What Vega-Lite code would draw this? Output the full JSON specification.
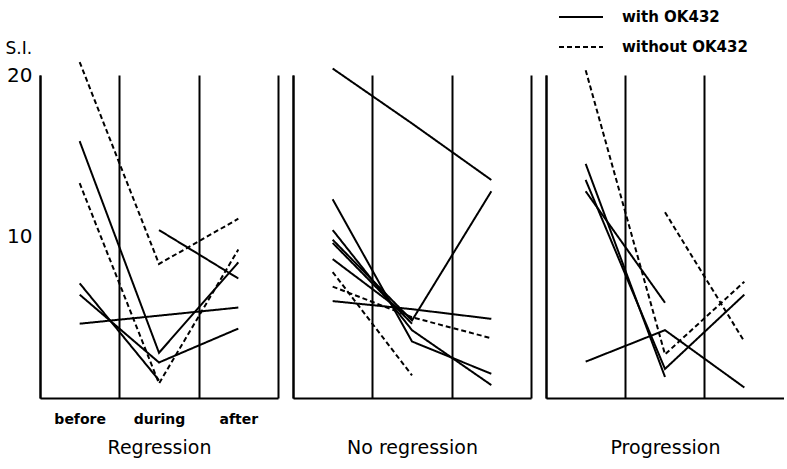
{
  "$schema": "https://vega.github.io/schema/vega-lite/v6.json",
  "padding": {"left": 5, "top": 5, "right": 0, "bottom": 5},
  "background": "white",
  "config": {
    "font": "DejaVu Sans",
    "view": {"stroke": null},
    "axis": {"domainColor": "black", "gridColor": "black", "gridOpacity": 1, "labelColor": "black", "titleColor": "black"}
  },
  "data": {"values": [
    {"panel": "Regression", "id": "r1", "type": "without OK432", "phase": "before", "si": 20.8},
    {"panel": "Regression", "id": "r1", "type": "without OK432", "phase": "during", "si": 8.3},
    {"panel": "Regression", "id": "r1", "type": "without OK432", "phase": "after", "si": 11.1},
    {"panel": "Regression", "id": "r2", "type": "without OK432", "phase": "before", "si": 13.3},
    {"panel": "Regression", "id": "r2", "type": "without OK432", "phase": "during", "si": 0.9},
    {"panel": "Regression", "id": "r2", "type": "without OK432", "phase": "after", "si": 9.2},
    {"panel": "Regression", "id": "r3", "type": "with OK432", "phase": "before", "si": 15.9},
    {"panel": "Regression", "id": "r3", "type": "with OK432", "phase": "during", "si": 2.8},
    {"panel": "Regression", "id": "r3", "type": "with OK432", "phase": "after", "si": 8.4},
    {"panel": "Regression", "id": "r4", "type": "with OK432", "phase": "before", "si": 6.4},
    {"panel": "Regression", "id": "r4", "type": "with OK432", "phase": "during", "si": 2.2},
    {"panel": "Regression", "id": "r4", "type": "with OK432", "phase": "after", "si": 4.3},
    {"panel": "Regression", "id": "r5", "type": "with OK432", "phase": "before", "si": 7.1},
    {"panel": "Regression", "id": "r5", "type": "with OK432", "phase": "during", "si": 1.1},
    {"panel": "Regression", "id": "r6", "type": "with OK432", "phase": "before", "si": 4.6},
    {"panel": "Regression", "id": "r6", "type": "with OK432", "phase": "during", "si": 5.1},
    {"panel": "Regression", "id": "r6", "type": "with OK432", "phase": "after", "si": 5.6},
    {"panel": "Regression", "id": "r7", "type": "with OK432", "phase": "during", "si": 10.4},
    {"panel": "Regression", "id": "r7", "type": "with OK432", "phase": "after", "si": 7.4},

    {"panel": "No regression", "id": "n1", "type": "with OK432", "phase": "before", "si": 20.4},
    {"panel": "No regression", "id": "n1", "type": "with OK432", "phase": "during", "si": 17.0},
    {"panel": "No regression", "id": "n1", "type": "with OK432", "phase": "after", "si": 13.5},
    {"panel": "No regression", "id": "n2", "type": "with OK432", "phase": "before", "si": 12.3},
    {"panel": "No regression", "id": "n2", "type": "with OK432", "phase": "during", "si": 3.5},
    {"panel": "No regression", "id": "n2", "type": "with OK432", "phase": "after", "si": 1.5},
    {"panel": "No regression", "id": "n3", "type": "with OK432", "phase": "before", "si": 10.4},
    {"panel": "No regression", "id": "n3", "type": "with OK432", "phase": "during", "si": 4.2},
    {"panel": "No regression", "id": "n3", "type": "with OK432", "phase": "after", "si": 0.8},
    {"panel": "No regression", "id": "n4", "type": "with OK432", "phase": "before", "si": 9.8},
    {"panel": "No regression", "id": "n4", "type": "with OK432", "phase": "during", "si": 4.8},
    {"panel": "No regression", "id": "n4", "type": "with OK432", "phase": "after", "si": 12.8},
    {"panel": "No regression", "id": "n5", "type": "with OK432", "phase": "before", "si": 9.6},
    {"panel": "No regression", "id": "n5", "type": "with OK432", "phase": "during", "si": 4.6},
    {"panel": "No regression", "id": "n6", "type": "with OK432", "phase": "before", "si": 8.6},
    {"panel": "No regression", "id": "n6", "type": "with OK432", "phase": "during", "si": 4.9},
    {"panel": "No regression", "id": "n7", "type": "without OK432", "phase": "before", "si": 7.8},
    {"panel": "No regression", "id": "n7", "type": "without OK432", "phase": "during", "si": 1.4},
    {"panel": "No regression", "id": "n8", "type": "without OK432", "phase": "before", "si": 6.9},
    {"panel": "No regression", "id": "n8", "type": "without OK432", "phase": "during", "si": 5.0},
    {"panel": "No regression", "id": "n8", "type": "without OK432", "phase": "after", "si": 3.7},
    {"panel": "No regression", "id": "n9", "type": "with OK432", "phase": "before", "si": 6.0},
    {"panel": "No regression", "id": "n9", "type": "with OK432", "phase": "during", "si": 5.5},
    {"panel": "No regression", "id": "n9", "type": "with OK432", "phase": "after", "si": 4.9},

    {"panel": "Progression", "id": "p1", "type": "without OK432", "phase": "before", "si": 20.3},
    {"panel": "Progression", "id": "p1", "type": "without OK432", "phase": "during", "si": 2.7},
    {"panel": "Progression", "id": "p1", "type": "without OK432", "phase": "after", "si": 7.2},
    {"panel": "Progression", "id": "p2", "type": "with OK432", "phase": "before", "si": 14.5},
    {"panel": "Progression", "id": "p2", "type": "with OK432", "phase": "during", "si": 1.3},
    {"panel": "Progression", "id": "p3", "type": "with OK432", "phase": "before", "si": 13.5},
    {"panel": "Progression", "id": "p3", "type": "with OK432", "phase": "during", "si": 1.8},
    {"panel": "Progression", "id": "p3", "type": "with OK432", "phase": "after", "si": 6.4},
    {"panel": "Progression", "id": "p4", "type": "with OK432", "phase": "before", "si": 12.8},
    {"panel": "Progression", "id": "p4", "type": "with OK432", "phase": "during", "si": 5.9},
    {"panel": "Progression", "id": "p5", "type": "with OK432", "phase": "before", "si": 2.25},
    {"panel": "Progression", "id": "p5", "type": "with OK432", "phase": "during", "si": 4.2},
    {"panel": "Progression", "id": "p5", "type": "with OK432", "phase": "after", "si": 0.65},
    {"panel": "Progression", "id": "p6", "type": "without OK432", "phase": "during", "si": 11.5},
    {"panel": "Progression", "id": "p6", "type": "without OK432", "phase": "after", "si": 3.5}
  ]},
  "spacing": 15,
  "resolve": {"legend": {"strokeDash": "independent"}},
  "hconcat": [
    {
      "width": 238, "height": 323,
      "transform": [{"filter": "datum.panel === 'Regression'"}],
      "mark": {"type": "line", "color": "black", "strokeWidth": 2, "clip": false},
      "encoding": {
        "x": {"field": "phase", "type": "ordinal", "sort": ["before", "during", "after"],
              "scale": {"type": "band", "paddingInner": 0, "paddingOuter": 0},
              "axis": {"tickBand": "extent", "grid": true, "gridWidth": 2, "ticks": false, "domain": true, "domainWidth": 2,
                       "labelAngle": 0, "labelFontSize": 14, "labelFontWeight": "bold", "labelPadding": 14,
                       "title": "Regression", "titleFontSize": 19, "titleFontWeight": "normal", "titlePadding": 12}},
        "y": {"field": "si", "type": "quantitative", "scale": {"domain": [0, 20], "nice": false},
              "axis": {"values": [10, 20], "grid": false, "ticks": false, "domain": true, "domainWidth": 2,
                       "labelFontSize": 20, "labelPadding": 8,
                       "title": "S.I.", "titleAngle": 0, "titleAlign": "left", "titleBaseline": "alphabetic",
                       "titleX": -35, "titleY": -22, "titleFontSize": 17, "titleFontWeight": "normal"}},
        "detail": {"field": "id"},
        "strokeDash": {"field": "type", "type": "nominal",
                       "scale": {"domain": ["with OK432", "without OK432"], "range": [[1, 0], [5, 3]]},
                       "legend": null}
      }
    },
    {
      "width": 238, "height": 323,
      "transform": [{"filter": "datum.panel === 'No regression'"}],
      "mark": {"type": "line", "color": "black", "strokeWidth": 2, "clip": false},
      "encoding": {
        "x": {"field": "phase", "type": "ordinal", "sort": ["before", "during", "after"],
              "scale": {"type": "band", "paddingInner": 0, "paddingOuter": 0},
              "axis": {"tickBand": "extent", "grid": true, "gridWidth": 2, "ticks": false, "domain": true, "domainWidth": 2,
                       "labelAngle": 0, "labelFontSize": 14, "labelFontWeight": "bold", "labelPadding": 14, "labelOpacity": 0,
                       "title": "No regression", "titleFontSize": 19, "titleFontWeight": "normal", "titlePadding": 12}},
        "y": {"field": "si", "type": "quantitative", "scale": {"domain": [0, 20], "nice": false},
              "axis": {"labels": false, "grid": false, "ticks": false, "domain": true, "domainWidth": 2, "title": null}},
        "detail": {"field": "id"},
        "strokeDash": {"field": "type", "type": "nominal",
                       "scale": {"domain": ["with OK432", "without OK432"], "range": [[1, 0], [5, 3]]},
                       "legend": null}
      }
    },
    {
      "width": 238, "height": 323,
      "transform": [{"filter": "datum.panel === 'Progression'"}],
      "mark": {"type": "line", "color": "black", "strokeWidth": 2, "clip": false},
      "encoding": {
        "x": {"field": "phase", "type": "ordinal", "sort": ["before", "during", "after"],
              "scale": {"type": "band", "paddingInner": 0, "paddingOuter": 0},
              "axis": {"bandPosition": 0, "grid": true, "gridWidth": 2, "ticks": false, "domain": true, "domainWidth": 2,
                       "labelAngle": 0, "labelFontSize": 14, "labelFontWeight": "bold", "labelPadding": 14, "labelOpacity": 0,
                       "title": "Progression", "titleFontSize": 19, "titleFontWeight": "normal", "titlePadding": 12}},
        "y": {"field": "si", "type": "quantitative", "scale": {"domain": [0, 20], "nice": false},
              "axis": {"labels": false, "grid": false, "ticks": false, "domain": true, "domainWidth": 2, "title": null}},
        "detail": {"field": "id"},
        "strokeDash": {"field": "type", "type": "nominal",
                       "scale": {"domain": ["with OK432", "without OK432"], "range": [[1, 0], [5, 3]]},
                       "legend": {"orient": "none", "legendX": 23, "legendY": -70, "title": null,
                                  "symbolType": "M-2,0H2", "symbolSize": 484, "symbolStrokeWidth": 1.8,
                                  "symbolStrokeColor": "black", "labelFontSize": 15, "labelFontWeight": "bold",
                                  "labelOffset": 29, "rowPadding": 10, "labelColor": "black"}}
      }
    }
  ]
}
